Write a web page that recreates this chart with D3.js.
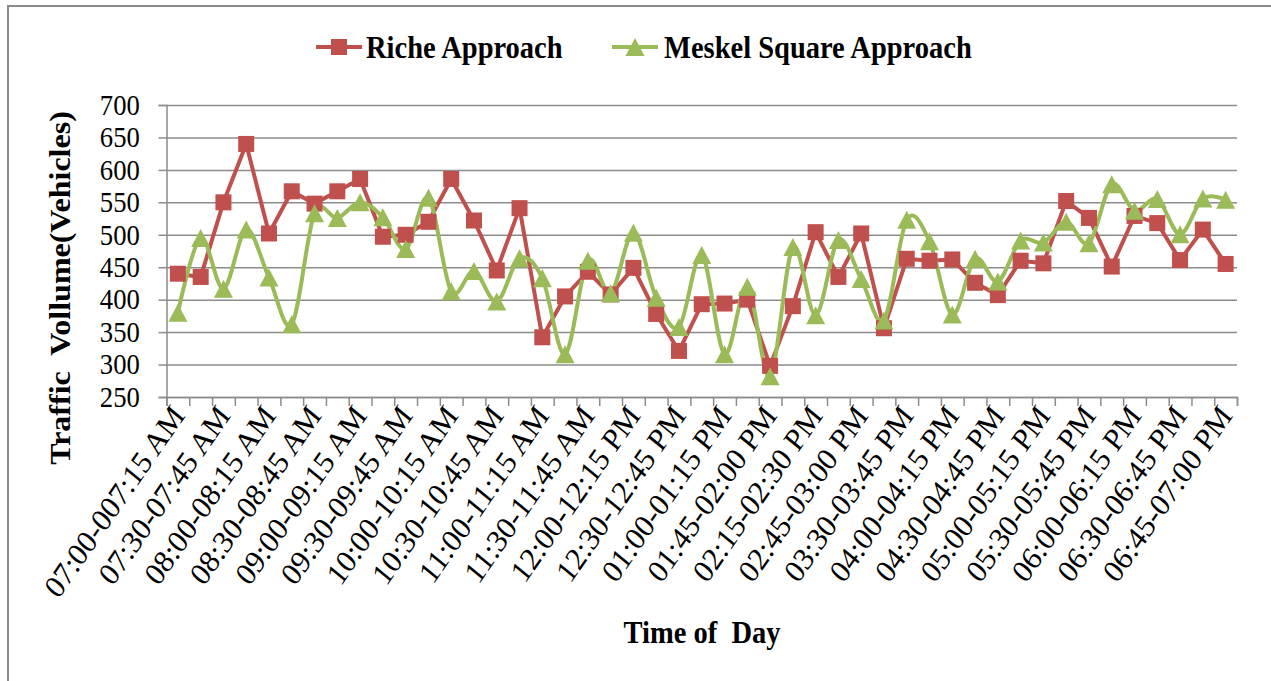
<!DOCTYPE html>
<html>
  <head>
    <meta charset="utf-8">
    <title>Traffic Volume</title>
    <style>
      body {
        margin: 0;
        padding: 0;
        background: #fff;
      }
      svg text {
        font-family: 'Liberation Serif', 'Times New Roman', serif;
        white-space: pre;
      }
    </style>
  </head>
  <body>
    <div id="chart"></div>

    <script src="https://cdnjs.cloudflare.com/ajax/libs/d3/7.8.5/d3.min.js"></script>
    <script>
      // Time intervals (every other one is labelled on the axis)
      const categories = [
        "07:00-007:15 AM", "07:15-07:30 AM", "07:30-07:45 AM", "07:45-08:00 AM",
        "08:00-08:15 AM", "08:15-08:30 AM", "08:30-08:45 AM", "08:45-09:00 AM",
        "09:00-09:15 AM", "09:15-09:30 AM", "09:30-09:45 AM", "09:45-10:00 AM",
        "10:00-10:15 AM", "10:15-10:30 AM", "10:30-10:45 AM", "10:45-11:00 AM",
        "11:00-11:15 AM", "11:15-11:30 AM", "11:30-11:45 AM", "11:45-12:00 AM",
        "12:00-12:15 PM", "12:15-12:30 PM", "12:30-12:45 PM", "12:45-01:00 PM",
        "01:00-01:15 PM", "01:15-01:30 PM", "01:45-02:00 PM", "02:00-02:15 PM",
        "02:15-02:30 PM", "02:30-02:45 PM", "02:45-03:00 PM", "03:00-03:15 PM",
        "03:30-03:45 PM", "03:45-04:00 PM", "04:00-04:15 PM", "04:15-04:30 PM",
        "04:30-04:45 PM", "04:45-05:00 PM", "05:00-05:15 PM", "05:15-05:30 PM",
        "05:30-05:45 PM", "05:45-06:00 PM", "06:00-06:15 PM", "06:15-06:30 PM",
        "06:30-06:45 PM", "06:45-07:00 PM", "06:45-07:00 PM"
      ];

      const riche = [
        440, 435, 550, 640, 502, 567, 548, 567, 586, 497, 500, 520,
        586, 522, 445, 541, 342, 405, 443, 408, 449, 378, 321, 393,
        394, 400, 298, 390, 504, 435, 502, 356, 463, 460, 462, 426,
        407, 460, 456, 552, 526, 451, 529, 518, 461, 508, 455
      ];

      const meskel = [
        380, 495, 417, 508, 434, 362, 533, 526, 550, 527, 478, 557,
        413, 444, 397, 464, 433, 316, 460, 410, 503, 403, 358, 469,
        316, 420, 282, 481, 376, 492, 432, 368, 523, 490, 377, 463,
        428, 491, 488, 520, 487, 578, 537, 555, 501, 556, 554
      ];

      const yTicks = [250, 300, 350, 400, 450, 500, 550, 600, 650, 700];

      const seriesNames = ["Riche Approach", "Meskel Square Approach"];

      const W = 1271, H = 681;
      const SX = 0.92; // text is a little condensed in the original
      const red = "#C0504D", green = "#9BBB59", grid = "#8C8C8C";

      const svg = d3.select('#chart')
                    .append('svg')
                    .attr('width', W)
                    .attr('height', H);

      svg.append('rect').attr('width', W).attr('height', H).attr('fill', '#fff');

      // outer frame (only top and left visible)
      svg.append('path')
         .attr('d', `M8,${H + 5}V6H${W + 5}`)
         .attr('fill', 'none')
         .attr('stroke', '#8A8A8A')
         .attr('stroke-width', 2);

      const plotL = 166.5, plotR = 1237, plotT = 105, plotB = 397;

      const x = d3.scaleBand()
                  .domain(d3.range(categories.length))
                  .range([plotL, plotR])
                  .padding(0);
      const xEdge = d3.scaleLinear()
                  .domain([0, categories.length])
                  .range([plotL, plotR]);
      const y = d3.scaleLinear()
                  .domain([250, 700])
                  .range([plotB, plotT]);
      const cx = i => x(i) + x.bandwidth() / 2;

      // gridlines
      svg.append('g')
         .attr('transform', `translate(${plotL},0)`)
         .call(d3.axisLeft(y).tickValues(yTicks).tickSize(-(plotR - plotL)).tickFormat(''))
         .call(g => g.select('.domain').remove())
         .call(g => g.selectAll('line').attr('stroke', grid).attr('stroke-width', 1.5));

      // y axis
      const yAxis = svg.append('g')
         .attr('transform', `translate(${plotL},0)`)
         .call(d3.axisLeft(y).tickValues(yTicks).tickSize(8).tickPadding(21));
      yAxis.select('.domain').attr('stroke', grid).attr('stroke-width', 1.5);
      yAxis.selectAll('line').attr('stroke', grid).attr('stroke-width', 1.5);
      yAxis.selectAll('text')
           .attr('font-family', 'Liberation Serif')
           .attr('font-size', 29)
           .attr('fill', '#000')
           .attr('transform', `scale(${SX},1)`);

      // x axis line with ticks between categories
      const xAxis = svg.append('g')
         .attr('transform', `translate(0,${plotB})`)
         .call(d3.axisBottom(xEdge).tickValues(d3.range(categories.length + 1)).tickSize(9).tickFormat(''));
      xAxis.select('.domain').attr('stroke', grid).attr('stroke-width', 1.5);
      xAxis.selectAll('line').attr('stroke', grid).attr('stroke-width', 1.5);

      // x tick labels (every other category)
      const xLab = svg.append('g')
         .attr('transform', `translate(0,${plotB})`)
         .call(d3.axisBottom(x)
                 .tickValues(d3.range(0, categories.length, 2))
                 .tickSize(0)
                 .tickFormat(i => categories[i]));
      xLab.select('.domain').remove();
      xLab.selectAll('text')
          .attr('font-family', 'Liberation Serif')
          .attr('font-size', 32)
          .attr('fill', '#000')
          .attr('x', 0).attr('y', 0).attr('dy', 0)
          .style('text-anchor', 'end')
          .attr('transform', `translate(8,19) scale(${SX},1) rotate(-53)`);

      // lines
      const lineR = d3.line().x((d, i) => cx(i)).y(d => y(d));
      const lineG = d3.line().x((d, i) => cx(i)).y(d => y(d)).curve(d3.curveCardinal.tension(0));

      svg.append('path').datum(riche)
         .attr('d', lineR).attr('fill', 'none')
         .attr('stroke', red).attr('stroke-width', 4).attr('stroke-linejoin', 'round');

      svg.append('path').datum(meskel)
         .attr('d', lineG).attr('fill', 'none')
         .attr('stroke', green).attr('stroke-width', 4).attr('stroke-linejoin', 'round');

      const sq = 16;
      svg.selectAll('.sq').data(riche).enter()
         .append('rect').attr('class', 'sq')
         .attr('x', (d, i) => cx(i) - sq / 2)
         .attr('y', d => y(d) - sq / 2)
         .attr('width', sq).attr('height', sq)
         .attr('fill', red);

      const tri = (w, h) => `M0,${-h / 2}L${w / 2},${h / 2}L${-w / 2},${h / 2}Z`;
      svg.selectAll('.tri').data(meskel).enter()
         .append('path').attr('class', 'tri')
         .attr('d', tri(19, 18))
         .attr('transform', (d, i) => `translate(${cx(i)},${y(d)})`)
         .attr('fill', green);

      // legend
      const legend = svg.append('g');
      const items = [
        {name: seriesNames[0], color: red, lx: 316, tx: 366, shape: 'sq'},
        {name: seriesNames[1], color: green, lx: 612, tx: 664, shape: 'tri'}
      ];
      items.forEach(it => {
        legend.append('line')
              .attr('x1', it.lx).attr('x2', it.lx + 46)
              .attr('y1', 47).attr('y2', 47)
              .attr('stroke', it.color).attr('stroke-width', 4);
        if (it.shape === 'sq') {
          legend.append('rect')
                .attr('x', it.lx + 23 - sq / 2).attr('y', 47 - sq / 2)
                .attr('width', sq).attr('height', sq).attr('fill', it.color);
        } else {
          legend.append('path').attr('d', tri(19, 18))
                .attr('transform', `translate(${it.lx + 23},47)`)
                .attr('fill', it.color);
        }
        legend.append('text')
              .attr('transform', `translate(${it.tx},58) scale(${SX},1)`)
              .attr('font-size', 31).attr('font-weight', 'bold')
              .text(it.name);
      });

      // axis titles
      svg.append('text')
         .attr('transform', `translate(70,288) scale(${SX},1) rotate(-90)`)
         .attr('text-anchor', 'middle')
         .attr('font-size', 32).attr('font-weight', 'bold')
         .text('Traffic  Vollume(Vehicles)');

      svg.append('text')
         .attr('transform', `translate(702,643) scale(${SX},1)`)
         .attr('text-anchor', 'middle')
         .attr('font-size', 31).attr('font-weight', 'bold')
         .text('Time of  Day');
    </script>
  </body>
</html>
